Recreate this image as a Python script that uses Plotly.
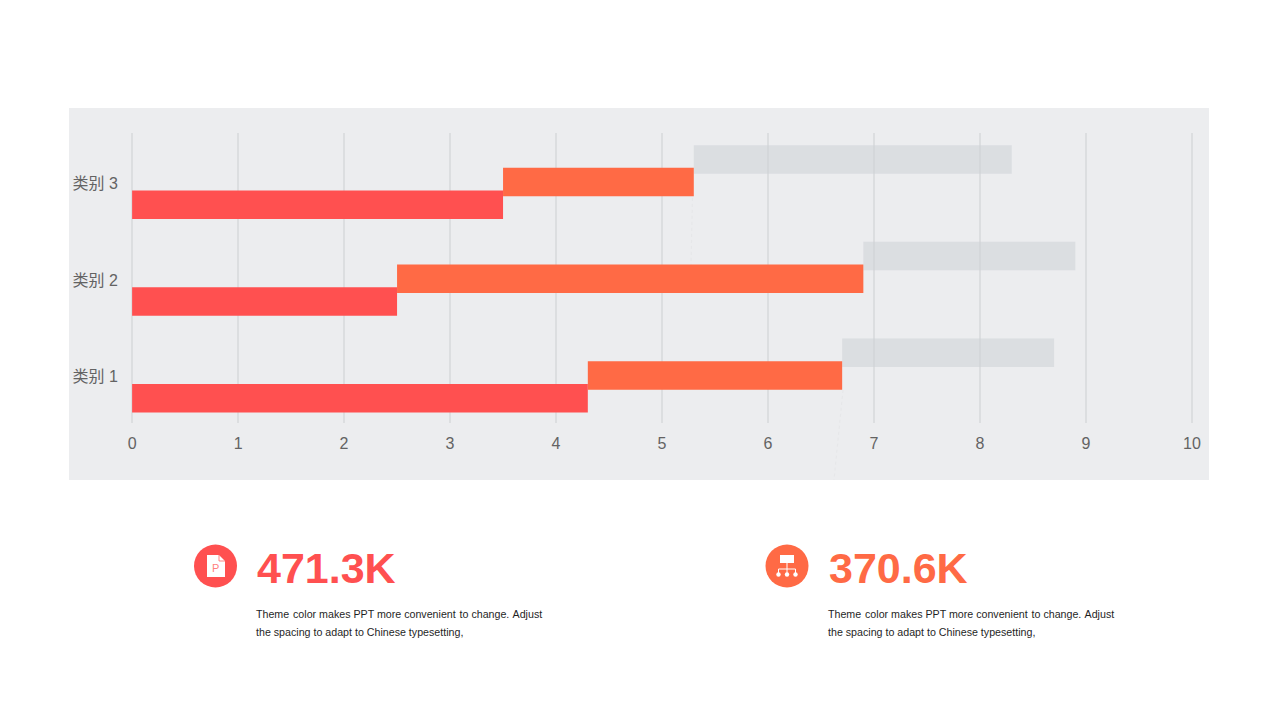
import plotly.graph_objects as go

categories = ["类别 1", "类别 2", "类别 3"]
series_red = [4.3, 2.5, 3.5]
series_orange = [2.4, 4.4, 1.8]
series_grey = [2.0, 2.0, 3.0]
x_ticks = list(range(0, 11))

stat_values = ["471.3K", "370.6K"]
body_lines = ["Theme\u200a color makes PPT more convenient\u200a to change.\u200a Adjust",
              "the spacing to adapt to Chinese typesetting,"]

RED = "#FF5050"
ORANGE = "#FF6A45"
GREY = "rgba(205,210,214,0.56)"
W, H = 1280, 720
L, R, T, B = 130, 86, 133, 297
PW, PH = W - L - R, H - T - B


def px(x):
    return (x - L) / PW


def py(y):
    return (H - B - y) / PH


def rect(x0, y0, x1, y1, color, layer="below"):
    return dict(type="rect", xref="paper", yref="paper", x0=px(x0), x1=px(x1), y0=py(y0), y1=py(y1),
                fillcolor=color, line_width=0, layer=layer)


def circle(cx, cy, r, color, layer="above"):
    return dict(type="circle", xref="paper", yref="paper", x0=px(cx - r), x1=px(cx + r), y0=py(cy + r), y1=py(cy - r),
                fillcolor=color, line_width=0, layer=layer)


def poly(points, color):
    d = "M " + " L ".join(f"{px(a):.5f},{py(b):.5f}" for a, b in points) + " Z"
    return dict(type="path", xref="paper", yref="paper", path=d, fillcolor=color, line_width=0, layer="above")


def seg(x0, y0, x1, y1, color, width=1, dash="solid", layer="above"):
    return dict(type="line", xref="paper", yref="paper", x0=px(x0), x1=px(x1), y0=py(y0), y1=py(y1),
                line=dict(color=color, width=width, dash=dash), layer=layer)


fig = go.Figure()
bar_w = 0.295
base_orange = list(series_red)
base_grey = [a + b for a, b in zip(series_red, series_orange)]
fig.add_trace(go.Bar(y=categories, x=series_grey, base=base_grey, orientation="h", name="系列 3",
                     marker=dict(color=GREY, line_width=0), width=bar_w, offset=0.23 - bar_w / 2 - 0.003))
fig.add_trace(go.Bar(y=categories, x=series_orange, base=base_orange, orientation="h", name="系列 2",
                     marker=dict(color=ORANGE, line_width=0), width=bar_w, offset=-bar_w / 2 - 0.008))
fig.add_trace(go.Bar(y=categories, x=series_red, base=[0, 0, 0], orientation="h", name="系列 1",
                     marker=dict(color=RED, line_width=0), width=bar_w, offset=-0.24 - bar_w / 2 - 0.003))

shapes = [rect(69, 108, 1209, 480, "#ECEDEF"),
          seg(843, 390, 834, 480, "#E6E7E9", 1, "dot", "below"),
          seg(693, 174, 691, 265, "#E6E7E9", 1, "dot", "below")]
# icon 1: document
shapes.append(circle(215.5, 566, 21.5, RED))
shapes.append(poly([(207, 555), (219, 555), (225, 561), (225, 577), (207, 577)], "#FFFFFF"))
shapes.append(seg(219, 555, 219, 561, RED, 0.7))
shapes.append(seg(219, 561, 225, 561, RED, 0.7))
# icon 2: hierarchy
shapes.append(circle(787, 566, 21.5, ORANGE))
shapes.append(rect(780, 555, 794, 563, "#FFFFFF", "above"))
shapes.append(seg(787, 563, 787, 574, "#FFFFFF", 1))
shapes.append(seg(778.5, 569, 795.5, 569, "#FFFFFF", 1))
shapes.append(seg(778.5, 569, 778.5, 574, "#FFFFFF", 1))
shapes.append(seg(795.5, 569, 795.5, 574, "#FFFFFF", 1))
for cx in (778.5, 787, 795.5):
    shapes.append(circle(cx, 574.5, 2.2, "#FFFFFF"))

annotations = []
for i, (val, color, xpos) in enumerate(zip(stat_values, [RED, ORANGE], [256.5, 828.5])):
    annotations.append(dict(text=f"<b>{val}</b>", x=px(xpos), y=py(568), xref="paper", yref="paper",
                            xanchor="left", yanchor="middle", showarrow=False, xshift=-2,
                            font=dict(family="Liberation Sans", size=43, color=color)))
    for line, ypos in zip(body_lines, [613.5, 632]):
        annotations.append(dict(text=line, x=px(xpos), y=py(ypos), xref="paper", yref="paper",
                                xanchor="left", yanchor="middle", showarrow=False, xshift=-3,
                                font=dict(family="Liberation Sans", size=10.67, color="#1F1F1F")))
annotations.append(dict(text="P", x=px(215.5), y=py(568), xref="paper", yref="paper", showarrow=False,
                        xanchor="center", yanchor="middle",
                        font=dict(family="Liberation Sans", size=11, color="#FF8080")))

fig.update_layout(
    width=W, height=H, barmode="overlay", showlegend=False,
    paper_bgcolor="#FFFFFF", plot_bgcolor="rgba(0,0,0,0)",
    margin=dict(l=L, r=R, t=T, b=B, pad=0),
    shapes=shapes, annotations=annotations,
    font=dict(family="Liberation Sans, Noto Sans CJK SC", color="#636363", size=16),
    xaxis=dict(range=[-0.02, 10.02], tickvals=x_ticks, showgrid=True, gridcolor="#DCDEE0", gridwidth=2,
               zeroline=False, showline=False, ticks="outside", ticklen=6, tickcolor="rgba(0,0,0,0)",
               tickfont=dict(size=16, color="#636363")),
    yaxis=dict(type="category", categoryorder="array", categoryarray=categories, showgrid=False,
               zeroline=False, showline=False, ticks="outside", ticklen=8, tickcolor="rgba(0,0,0,0)",
               ticklabelshift=2, tickfont=dict(size=16, color="#636363")),
)

fig.write_html("out.html", config=dict(displayModeBar=False),
               post_script="document.body.style.margin='0';")
